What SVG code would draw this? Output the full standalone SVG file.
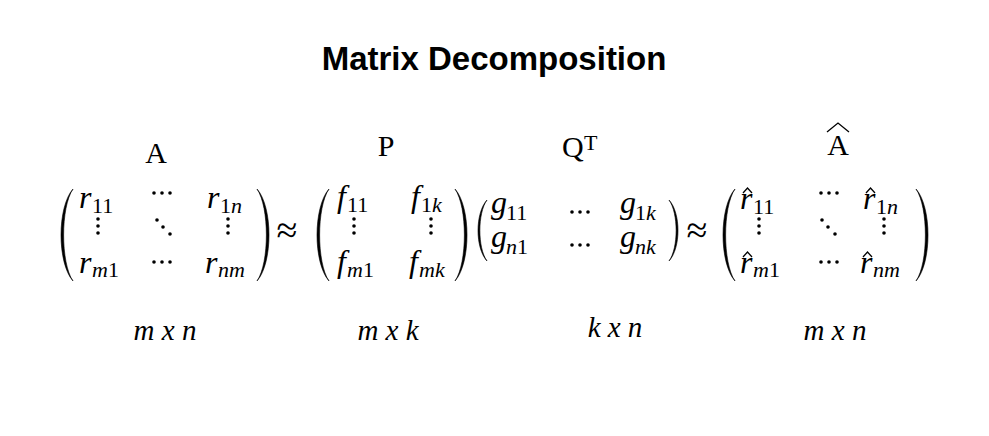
<svg xmlns="http://www.w3.org/2000/svg" width="989" height="436" viewBox="0 0 989 436">
<style>
.t{font-family:"Liberation Sans",Arial,sans-serif;font-weight:bold;font-size:33px;fill:#000}
.lb{font-family:"Liberation Serif","Times New Roman",serif;font-size:30px;fill:#000}
.v{font-family:"Liberation Serif","Times New Roman",serif;font-style:italic;font-size:32px;fill:#000}
.s{font-family:"Liberation Serif","Times New Roman",serif;font-size:22px;fill:#000}
.si{font-style:italic}
.ap{font-family:"Liberation Serif","Times New Roman",serif;font-size:38px;fill:#000}
.dim{font-family:"Liberation Serif","Times New Roman",serif;font-style:italic;font-size:29px;fill:#000}
.par{fill:#000;stroke:#000;stroke-width:0.6}
.d{fill:#000}
.hat{fill:none;stroke:#000;stroke-width:1.3}
</style>
<rect width="989" height="436" fill="#fff"/>
<text class="t" x="494" y="70" text-anchor="middle">Matrix Decomposition</text>

<g id="matrixA">
<text class="lb" x="156" y="163" text-anchor="middle">A</text>
<path class="par" d="M73,189 C57,207 57,263 73,281 C60.5,263 60.5,207 73,189 Z"/>
<path class="par" d="M257,189 C273,207 273,263 257,281 C269.5,263 269.5,207 257,189 Z"/>
<text class="v" x="79" y="208">r</text><text class="s" x="92" y="213">11</text>
<text class="v" x="207" y="208">r</text><text class="s" x="220" y="213">1<tspan class="si">n</tspan></text>
<text class="v" x="79" y="273">r</text><text class="s" x="92" y="277"><tspan class="si">m</tspan>1</text>
<text class="v" x="205" y="273">r</text><text class="s si" x="218" y="277">nm</text>
<circle class="d" cx="154" cy="193" r="1.8"/><circle class="d" cx="162" cy="193" r="1.8"/><circle class="d" cx="170" cy="193" r="1.8"/>
<circle class="d" cx="154" cy="262" r="1.8"/><circle class="d" cx="162" cy="262" r="1.8"/><circle class="d" cx="170" cy="262" r="1.8"/>
<circle class="d" cx="157" cy="220" r="1.8"/><circle class="d" cx="163" cy="227" r="1.8"/><circle class="d" cx="170" cy="234" r="1.8"/>
<circle class="d" cx="98" cy="219" r="1.8"/><circle class="d" cx="98" cy="226" r="1.8"/><circle class="d" cx="98" cy="233" r="1.8"/>
<circle class="d" cx="228" cy="219" r="1.8"/><circle class="d" cx="228" cy="226" r="1.8"/><circle class="d" cx="228" cy="233" r="1.8"/>
<text class="dim" x="165" y="340" text-anchor="middle">m x n</text>
</g>

<text class="ap" x="287" y="243" text-anchor="middle">≈</text>

<g id="matrixP">
<text class="lb" x="386" y="156" text-anchor="middle">P</text>
<path class="par" d="M329,189 C313,207 313,263 329,281 C316.5,263 316.5,207 329,189 Z"/>
<path class="par" d="M455,189 C471,207 471,263 455,281 C467.5,263 467.5,207 455,189 Z"/>
<text class="v" x="337" y="207">f</text><text class="s" x="347" y="212">11</text>
<text class="v" x="411" y="207">f</text><text class="s" x="421" y="212">1<tspan class="si">k</tspan></text>
<text class="v" x="337" y="272">f</text><text class="s" x="347" y="277"><tspan class="si">m</tspan>1</text>
<text class="v" x="409" y="272">f</text><text class="s si" x="419" y="277">mk</text>
<circle class="d" cx="354" cy="219" r="1.8"/><circle class="d" cx="354" cy="226" r="1.8"/><circle class="d" cx="354" cy="233" r="1.8"/>
<circle class="d" cx="431" cy="219" r="1.8"/><circle class="d" cx="431" cy="226" r="1.8"/><circle class="d" cx="431" cy="233" r="1.8"/>
<text class="dim" x="388" y="340" text-anchor="middle">m x k</text>
</g>

<g id="matrixQT">
<text class="lb" x="562" y="157">Q</text><text class="s" x="584" y="150" font-size="15">T</text>
<path class="par" d="M487,200 C475,213 475,248 487,261 C477.5,248 477.5,213 487,200 Z"/>
<path class="par" d="M669,200 C681,213 681,248 669,261 C678.5,248 678.5,213 669,200 Z"/>
<text class="v" x="491" y="213">g</text><text class="s" x="506" y="220">11</text>
<text class="v" x="620" y="213">g</text><text class="s" x="635" y="220">1<tspan class="si">k</tspan></text>
<text class="v" x="491" y="247">g</text><text class="s" x="506" y="254"><tspan class="si">n</tspan>1</text>
<text class="v" x="620" y="247">g</text><text class="s si" x="635" y="254">nk</text>
<circle class="d" cx="572" cy="212" r="1.8"/><circle class="d" cx="580" cy="212" r="1.8"/><circle class="d" cx="588" cy="212" r="1.8"/>
<circle class="d" cx="572" cy="245" r="1.8"/><circle class="d" cx="580" cy="245" r="1.8"/><circle class="d" cx="588" cy="245" r="1.8"/>
<text class="dim" x="615" y="337" text-anchor="middle">k x n</text>
</g>

<text class="ap" x="697" y="243" text-anchor="middle">≈</text>

<g id="matrixAhat">
<text class="lb" x="838" y="155" text-anchor="middle">A</text>
<path class="hat" d="M827,132 L838,123 L849,132"/>
<path class="par" d="M735,189 C719,207 719,263 735,281 C722.5,263 722.5,207 735,189 Z"/>
<path class="par" d="M916,189 C932,207 932,263 916,281 C928.5,263 928.5,207 916,189 Z"/>
<text class="v" x="740" y="209">r</text><path class="hat" d="M743,193 L747.5,188 L752,193"/><text class="s" x="753" y="214">11</text>
<text class="v" x="863" y="209">r</text><path class="hat" d="M866,193 L870.5,188 L875,193"/><text class="s" x="876" y="214">1<tspan class="si">n</tspan></text>
<text class="v" x="740" y="273">r</text><path class="hat" d="M743,257 L747.5,252 L752,257"/><text class="s" x="753" y="277"><tspan class="si">m</tspan>1</text>
<text class="v" x="860" y="273">r</text><path class="hat" d="M863,257 L867.5,252 L872,257"/><text class="s si" x="873" y="277">nm</text>
<circle class="d" cx="821" cy="193" r="1.8"/><circle class="d" cx="829" cy="193" r="1.8"/><circle class="d" cx="837" cy="193" r="1.8"/>
<circle class="d" cx="821" cy="262" r="1.8"/><circle class="d" cx="829" cy="262" r="1.8"/><circle class="d" cx="837" cy="262" r="1.8"/>
<circle class="d" cx="822" cy="220" r="1.8"/><circle class="d" cx="828" cy="227" r="1.8"/><circle class="d" cx="835" cy="234" r="1.8"/>
<circle class="d" cx="759" cy="219" r="1.8"/><circle class="d" cx="759" cy="226" r="1.8"/><circle class="d" cx="759" cy="233" r="1.8"/>
<circle class="d" cx="884" cy="219" r="1.8"/><circle class="d" cx="884" cy="226" r="1.8"/><circle class="d" cx="884" cy="233" r="1.8"/>
<text class="dim" x="835" y="340" text-anchor="middle">m x n</text>
</g>
</svg>
